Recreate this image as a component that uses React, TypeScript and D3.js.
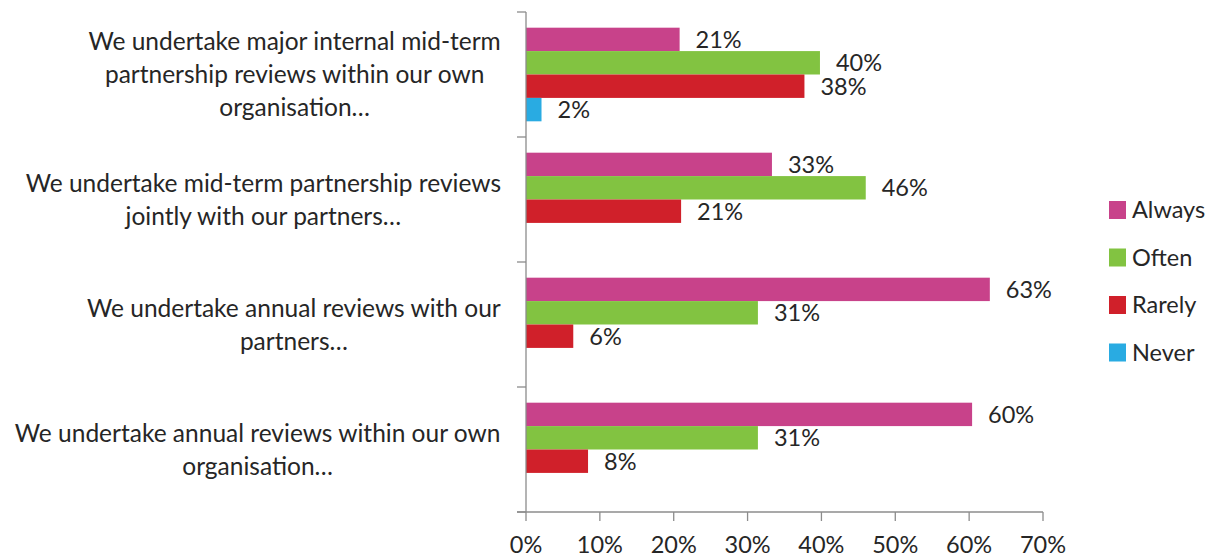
import React from "react";
import * as d3 from "d3";

const categories: string[][] = [
  ["We undertake major internal mid-term", "partnership reviews within our own", "organisation…"],
  ["We undertake mid-term partnership reviews", "jointly with our partners…"],
  ["We undertake annual reviews with our", "partners…"],
  ["We undertake annual reviews within our own", "organisation…"],
];
const seriesNames = ["Always", "Often", "Rarely", "Never"];
const seriesColors = ["#C8428A", "#82C341", "#D0202A", "#29ABE2"];
const always = [20.8, 33.3, 62.8, 60.4];
const often = [39.8, 46.0, 31.4, 31.4];
const rarely = [37.7, 21.0, 6.4, 8.4];
const never = [2.1, 0, 0, 0];
const xTicks = [0, 10, 20, 30, 40, 50, 60, 70];

const W = 1215;
const H = 557;
const FONT = "Lato, 'Open Sans', sans-serif";
const TEXT = "#262626";
const AXIS = "#8C8C8C";

const ctx = typeof document !== "undefined" ? document.createElement("canvas").getContext("2d") : null;
function measure(t: string, size: number) {
  if (!ctx) return t.length * size * 0.5;
  ctx.font = `${size}px Lato`;
  return ctx.measureText(t).width;
}

export default function App() {
  const values = [always, often, rarely, never];
  const x = d3.scaleLinear().domain([0, 70]).range([526, 1043]);
  const y = d3.scaleBand<number>().domain(d3.range(categories.length)).range([12, 512]).padding(0);
  const ys = d3
    .scaleBand<number>()
    .domain(d3.range(seriesNames.length))
    .range([0, y.bandwidth()])
    .paddingInner(0)
    .paddingOuter(0.67);
  const catFont = 24.5;
  const valFont = 23.5;
  const lineH = 33;
  const labelRight = 501;

  return (
    <svg width={W} height={H} style={{ position: "absolute", left: 0, top: 0, background: "#fff" }} fontFamily={FONT}>
      <rect x={0} y={0} width={W} height={H} fill="#fff" />
      {/* bars */}
      {categories.map((_, ci) => (
        <g key={ci} transform={`translate(0,${y(ci)})`}>
          {values.map((vals, si) =>
            vals[ci] > 0 ? (
              <g key={si}>
                <rect
                  x={x(0)}
                  y={ys(si)!}
                  width={x(vals[ci]) - x(0)}
                  height={ys.bandwidth()}
                  fill={seriesColors[si]}
                />
                <text
                  x={x(vals[ci]) + 16}
                  y={ys(si)! + ys.bandwidth() / 2}
                  dy="0.36em"
                  fontSize={valFont}
                  fill={TEXT}
                >
                  {`${Math.round(vals[ci])}%`}
                </text>
              </g>
            ) : null
          )}
        </g>
      ))}
      {/* category axis */}
      <line x1={x(0)} x2={x(0)} y1={12} y2={512} stroke={AXIS} strokeWidth={1.3} />
      {d3.range(categories.length + 1).map((i) => {
        const yy = i < categories.length ? y(i)! : 512;
        return <line key={i} x1={517} x2={x(0)} y1={yy} y2={yy} stroke={AXIS} strokeWidth={1.3} />;
      })}
      {categories.map((lines, ci) => {
        const maxW = d3.max(lines, (l) => measure(l, catFont)) || 0;
        const cx = labelRight - maxW / 2;
        const cy = y(ci)! + y.bandwidth() / 2;
        const top = cy - ((lines.length - 1) * lineH) / 2;
        return (
          <text key={ci} fontSize={catFont} fill={TEXT} textAnchor="middle">
            {lines.map((l, li) => (
              <tspan key={li} x={cx} y={top + li * lineH} dy="0.36em">
                {l}
              </tspan>
            ))}
          </text>
        );
      })}
      {/* value axis */}
      <line x1={517} x2={x(70)} y1={512} y2={512} stroke={AXIS} strokeWidth={1.3} />
      {xTicks.map((t) => (
        <g key={t}>
          <line x1={x(t)} x2={x(t)} y1={512} y2={521} stroke={AXIS} strokeWidth={1.3} />
          <text x={x(t)} y={545} dy="0.36em" textAnchor="middle" fontSize={valFont} fill={TEXT}>
            {`${t}%`}
          </text>
        </g>
      ))}
      {/* legend */}
      {seriesNames.map((s, i) => (
        <g key={s} transform={`translate(1109,${210 + i * 47.5})`}>
          <rect x={0} y={-9} width={17} height={18} fill={seriesColors[i]} />
          <text x={23} y={0} dy="0.36em" fontSize={valFont} fill={TEXT}>
            {s}
          </text>
        </g>
      ))}
    </svg>
  );
}
